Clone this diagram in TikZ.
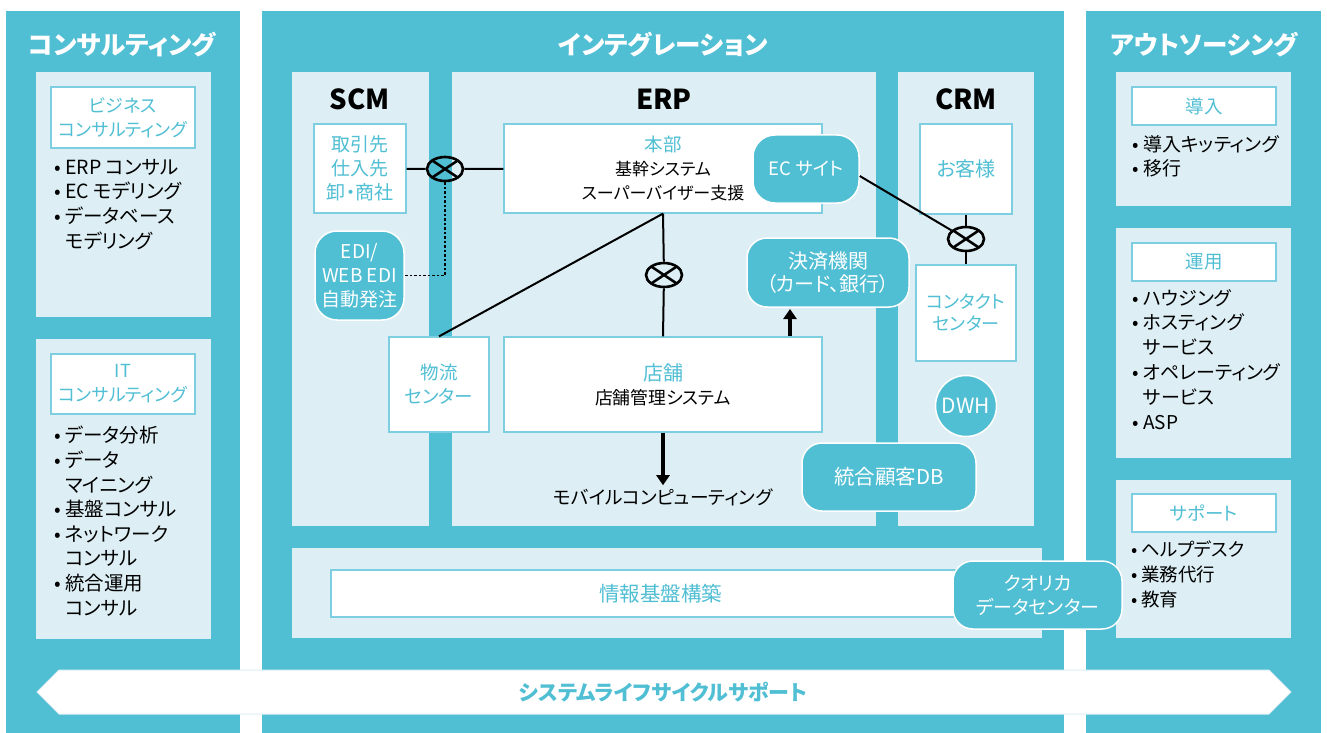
\documentclass[tikz,border=0pt]{standalone}
\usepackage{fontspec}
\setmainfont{Noto Sans CJK JP}[RawFeature=+palt]
\usetikzlibrary{shapes.geometric,arrows.meta}
\definecolor{qcyan}{RGB}{80,190,211}
\definecolor{qpale}{RGB}{221,239,245}
\definecolor{qedge}{RGB}{125,206,224}
\newcommand{\fs}[2]{\fontsize{#1}{#2}\selectfont}
\newcommand{\itm}{\makebox[11pt][l]{•}}
\newcommand{\ind}{\hspace*{11pt}}
\begin{document}
\begin{tikzpicture}
 [x=1pt,y=-1pt,every node/.style={inner sep=0pt,align=center},
  panel/.style={fill=qpale},
  head/.style={text=white,font=\fs{25.5}{30}\bfseries},
  part/.style={text=black,font=\fs{27.5}{30}\bfseries},
  wbox/.style={draw=qedge,fill=white,line width=1.2pt,text=qcyan},
  rbox/.style={draw=white,fill=qcyan,line width=1.5pt,rounded corners=20pt,text=white},
  items/.style={anchor=north west,align=left,text=black,font=\fs{19.5}{24.6}},
  mix/.style={ellipse,draw,line width=2.6pt,minimum width=36pt,minimum height=24pt,
    path picture={\draw[line width=2.6pt] (path picture bounding box.north west) -- (path picture bounding box.south east)
      (path picture bounding box.south west) -- (path picture bounding box.north east);}},
  link/.style={line width=2pt},
  push/.style={line width=3.5pt,-{Triangle[length=10pt,width=13pt]}}]
  \fill[white] (0,0) rectangle (1327,733);
  \useasboundingbox (0,0) rectangle (1327,733);

  % columns
  \fill[qcyan] (6,11) rectangle (240,733);
  \fill[qcyan] (262,11) rectangle (1064,733);
  \fill[qcyan] (1086,11) rectangle (1321,733);
  \node (hcons)[head] at (122,45) {コンサルティング};
  \node (hint)[head] at (663,45) {インテグレーション};
  \node (hout)[head] at (1204,45) {アウトソーシング};

  % inner panels
  \fill[panel] (36,72) rectangle (211,317);
  \fill[panel] (36,339) rectangle (211,639);
  \fill[panel] (292,72) rectangle (429,526);
  \fill[panel] (452,72) rectangle (876,526);
  \fill[panel] (898,72) rectangle (1034,526);
  \fill[panel] (292,548) rectangle (1042,638);
  \fill[panel] (1116,72) rectangle (1291,206);
  \fill[panel] (1116,228) rectangle (1291,458);
  \fill[panel] (1116,480) rectangle (1291,638);

  % consulting
  \node (biz)[wbox,font=\fs{18}{24},minimum width=144pt,minimum height=61pt] at (123,117.5) {ビジネス\\コンサルティング};
  \node (bizl)[items] at (54,159) {\itm ERP コンサル\\\itm EC モデリング\\\itm データベース\\\ind モデリング};
  \node (it)[wbox,font=\fs{18}{24},minimum width=144pt,minimum height=60pt] at (123,384) {IT\\コンサルティング};
  \node (itl)[items] at (54,426) {\itm データ分析\\\itm データ\\\ind マイニング\\\itm 基盤コンサル\\\itm ネットワーク\\\ind コンサル\\\itm 統合運用\\\ind コンサル};

  % integration
  \node (scm)[part] at (360,99) {SCM};
  \node (erp)[part] at (664,99) {ERP};
  \node (crm)[part] at (966,99) {CRM};
  \node (tori)[wbox,font=\fs{19}{24},minimum width=92pt,minimum height=89pt] at (360,168.5) {取引先\\仕入先\\卸・商社};
  \node (edi)[rbox,rounded corners=22pt,font=\fs{19}{24},minimum width=89pt,minimum height=89pt] at (359.5,275.5) {EDI/\\WEB EDI\\自動発注};
  \node (honbu)[wbox,text=black,font=\fs{17}{24},minimum width=318pt,minimum height=89pt] at (663,168.5)
    {\textcolor{qcyan}{\fs{18.5}{24}本部}\\基幹システム\\スーパーバイザー支援};
  \node (ec)[rbox,rounded corners=22pt,font=\fs{18.5}{24},minimum width=106pt,minimum height=68pt] at (806,169) {EC サイト};
  \node (kessai)[rbox,font=\fs{20}{23.5},minimum width=162pt,minimum height=69pt] at (828,272.5) {決済機関\\（カード、銀行）};
  \node (butsu)[wbox,font=\fs{18.5}{24},minimum width=100pt,minimum height=95pt] at (439,384.5) {物流\\センター};
  \node (tenpo)[wbox,text=black,font=\fs{17.8}{24},minimum width=318pt,minimum height=95pt] at (663,384.5)
    {\textcolor{qcyan}{\fs{20}{24}店舗}\\店舗管理システム};
  \node (mobile)[font=\fs{18.7}{22}] at (663,497) {モバイルコンピューティング};
  \node (kyaku)[wbox,font=\fs{20}{24},minimum width=92pt,minimum height=90pt] at (966,169) {お客様};
  \node (contact)[wbox,font=\fs{18}{22},minimum width=100pt,minimum height=96pt] at (966,313) {コンタクト\\センター};
  \node (dwh)[circle,draw=white,fill=qcyan,line width=1.5pt,text=white,font=\fs{21}{24},minimum size=61pt] at (966,406) {DWH};
  \node (togo)[rbox,font=\fs{20.5}{24},minimum width=174pt,minimum height=68pt] at (889,477) {統合顧客DB};
  \node (joho)[wbox,font=\fs{20.5}{24},minimum width=659pt,minimum height=47pt] at (660.5,593.5) {情報基盤構築};
  \node (qualica)[rbox,font=\fs{19}{24},minimum width=169pt,minimum height=68pt] at (1037.5,595) {クオリカ\\データセンター};

  \node (m1)[mix] at (445,169) {};
  \node (m2)[mix] at (664,275) {};
  \node (m3)[mix] at (966,239) {};
  \coordinate (kup) at (790,309);

  \draw[link] (tori) -- (m1) -- (honbu);
  \draw[dash pattern=on 2.5pt off 2pt,line width=1.6pt] (m1.south) |- (edi.east);
  \draw[link] (honbu.south) -- (m2) -- (tenpo.north);
  \draw[link] (honbu.south) -- (butsu.north);
  \draw[link] ([yshift=-7pt]ec.east) -- (m3);
  \draw[link] (kyaku) -- (m3) -- (contact);
  \draw[push] (tenpo.north -| kup) -- (kup);
  \draw[push,shorten >=3pt] (tenpo.south) -- (mobile.north);

  % outsourcing
  \node (donyu)[wbox,font=\fs{18.5}{24},minimum width=144pt,minimum height=38pt] at (1204,106) {導入};
  \node (donyul)[items,font=\fs{19}{24.5}] at (1132,135) {\itm 導入キッティング\\\itm 移行};
  \node (unyo)[wbox,font=\fs{18.5}{24},minimum width=144pt,minimum height=38pt] at (1204,262) {運用};
  \node (unyol)[items,font=\fs{19}{24.8}] at (1132,289) {\itm ハウジング\\\itm ホスティング\\\ind サービス\\\itm オペレーティング\\\ind サービス\\\itm ASP};
  \node (sup)[wbox,font=\fs{18.5}{24},minimum width=144pt,minimum height=38pt] at (1204,513) {サポート};
  \node (supl)[items,font=\fs{18.5}{25}] at (1131,541) {\makebox[10pt][l]{•}ヘルプデスク\\\makebox[10pt][l]{•}業務代行\\\makebox[10pt][l]{•}教育};

  % life cycle arrow
  \fill[white,draw=qpale,line width=1pt] (37,692) -- (59,670) -- (1269,670) -- (1291,692) -- (1269,714) -- (59,714) -- cycle;
  \node (cycle)[text=qcyan,font=\fs{21}{24}\bfseries] at (663,692) {システムライフサイクルサポート};
\end{tikzpicture}
\end{document}
